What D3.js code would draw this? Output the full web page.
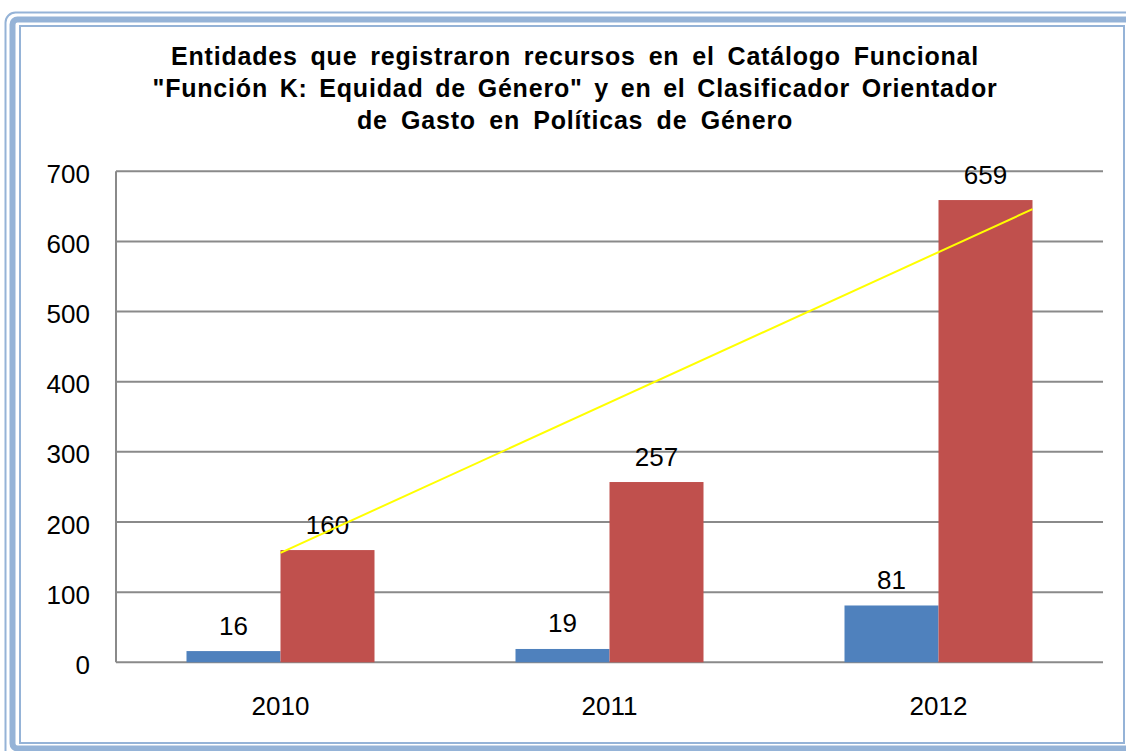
<!DOCTYPE html>
<html>
<head>
<meta charset="utf-8">
<script src="https://cdn.jsdelivr.net/npm/d3@7"></script>
<style>
  body { margin: 0; background: #fff; }
  svg { display: block; font-family: "Liberation Sans", Arial, sans-serif; }
</style>
</head>
<body>
<div id="chart"></div>
<script>
// chart values
var years = ["2010", "2011", "2012"];
var seriesNames = ["Catálogo Funcional", "Clasificador Orientador"];
var catalogo = [16, 19, 81];
var clasificador = [160, 257, 659];
var yTicks = [0, 100, 200, 300, 400, 500, 600, 700];
var trendYears = ["2010", "2012"];
var trendValues = [156, 646];
var titleLines = [
  "Entidades que registraron recursos en el Catálogo Funcional",
  "\"Función K: Equidad de Género\" y en el Clasificador Orientador",
  "de Gasto en Políticas de Género"
];
var titleWidths = [808, 845, 436];   // widths of the title lines in the picture

var width = 1126, height = 751;
var colors = ["#4f81bd", "#c0504d"];
var border = "#95b3d7";

var svg = d3.select("#chart").append("svg")
    .attr("width", width)
    .attr("height", height);

// frame (double border, cut on the right like the original picture)
svg.append("rect")
    .attr("x", 5.5).attr("y", 12.5)
    .attr("width", 1160).attr("height", 760)
    .attr("rx", 10)
    .attr("fill", "none").attr("stroke", border).attr("stroke-width", 2);
svg.append("rect")
    .attr("x", 12.5).attr("y", 19.5)
    .attr("width", 1150).attr("height", 729)
    .attr("rx", 5)
    .attr("fill", "none").attr("stroke", border).attr("stroke-width", 6);
svg.append("rect")
    .attr("x", 20).attr("y", 26)
    .attr("width", 1104).attr("height", 717)
    .attr("fill", "#fff").attr("stroke", border).attr("stroke-width", 2);

// plot area
var plot = {left: 116, right: 1103, top: 171.3, bottom: 662.3};

var y = d3.scaleLinear()
    .domain([0, 700])
    .range([plot.bottom, plot.top]);

var x0 = d3.scaleBand()
    .domain(years)
    .range([plot.left, plot.right])
    .padding(0);

var x1 = d3.scaleBand()
    .domain(seriesNames)
    .range([0, x0.bandwidth()])
    .paddingInner(0)
    .paddingOuter(0.75);

var rows = years.map(function(yr, i) {
    return {year: yr, values: [catalogo[i], clasificador[i]]};
});

// gridlines
svg.append("g")
    .selectAll("line")
    .data(yTicks)
    .enter()
    .append("line")
    .attr("x1", plot.left)
    .attr("x2", plot.right)
    .attr("y1", function(d){ return y(d); })
    .attr("y2", function(d){ return y(d); })
    .attr("stroke", "#8a8a8a")
    .attr("stroke-width", 2);

// left axis line
svg.append("line")
    .attr("x1", plot.left).attr("x2", plot.left)
    .attr("y1", y(700)).attr("y2", y(0))
    .attr("stroke", "#8a8a8a")
    .attr("stroke-width", 2);

// y tick labels
svg.append("g")
    .selectAll("text")
    .data(yTicks)
    .enter()
    .append("text")
    .attr("x", 90)
    .attr("y", function(d){ return y(d) + 11.5; })
    .attr("text-anchor", "end")
    .attr("font-size", "26px")
    .attr("fill", "#000")
    .text(function(d){ return d; });

// bars
var groups = svg.append("g")
    .selectAll("g")
    .data(rows)
    .enter()
    .append("g")
    .attr("transform", function(d){ return "translate(" + x0(d.year) + ",0)"; });

groups.selectAll("rect")
    .data(function(d){ return d.values.map(function(v, k){ return {name: seriesNames[k], value: v, k: k}; }); })
    .enter()
    .append("rect")
    .attr("x", function(d){ return x1(d.name); })
    .attr("y", function(d){ return y(d.value); })
    .attr("width", x1.bandwidth())
    .attr("height", function(d){ return y(0) - y(d.value); })
    .attr("fill", function(d){ return colors[d.k]; });

// yellow line drawn over the red bars
var trendPts = trendYears.map(function(yr, i) {
    var xx = i == 0 ? x0(yr) + x1(seriesNames[1]) : x0(yr) + x1(seriesNames[1]) + x1.bandwidth();
    return [xx, y(trendValues[i])];
});
svg.append("path")
    .attr("d", d3.line()(trendPts))
    .attr("fill", "none")
    .attr("stroke", "#ffff00")
    .attr("stroke-width", 2);

// data labels
groups.selectAll("text")
    .data(function(d){ return d.values.map(function(v, k){ return {name: seriesNames[k], value: v}; }); })
    .enter()
    .append("text")
    .attr("x", function(d){ return x1(d.name) + x1.bandwidth() / 2; })
    .attr("y", function(d){ return y(d.value) - 16.5; })
    .attr("text-anchor", "middle")
    .attr("font-size", "26px")
    .attr("fill", "#000")
    .text(function(d){ return d.value; });

// category labels
svg.append("g")
    .selectAll("text")
    .data(years)
    .enter()
    .append("text")
    .attr("x", function(d){ return x0(d) + x0.bandwidth() / 2; })
    .attr("y", 715)
    .attr("text-anchor", "middle")
    .attr("font-size", "26px")
    .attr("fill", "#000")
    .text(function(d){ return d; });

// title, word spacing stretched so each line is as wide as in the picture
svg.append("g")
    .selectAll("text")
    .data(titleLines)
    .enter()
    .append("text")
    .attr("x", 575)
    .attr("y", function(d, i){ return 65.3 + i * 31.7; })
    .attr("text-anchor", "middle")
    .attr("font-size", "25px")
    .attr("font-weight", "bold")
    .attr("letter-spacing", "0.8px")
    .attr("fill", "#000")
    .text(function(d){ return d; })
    .each(function(d, i){
        var w = this.getComputedTextLength();
        var gaps = d.split(" ").length - 1;
        var ws = Math.max(0, (titleWidths[i] - w) / gaps);
        d3.select(this).attr("word-spacing", ws + "px");
    });
</script>
</body>
</html>
